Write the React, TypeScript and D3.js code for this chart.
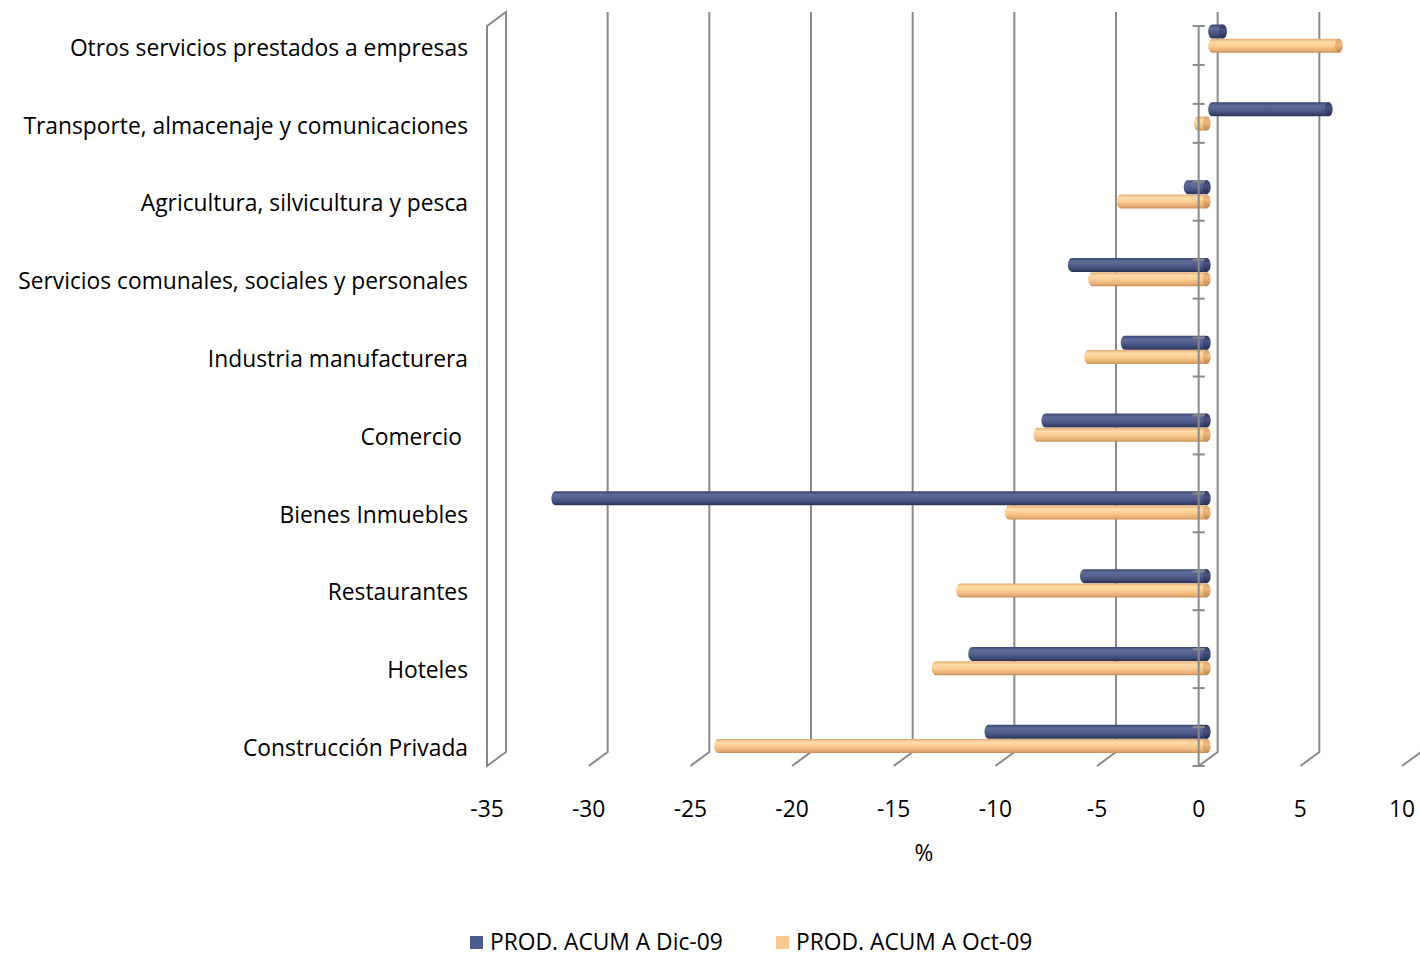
import React from "react";
import * as d3 from "d3";

const categories = [
  "Otros servicios prestados a empresas",
  "Transporte, almacenaje y comunicaciones",
  "Agricultura, silvicultura y pesca",
  "Servicios comunales, sociales y personales",
  "Industria manufacturera",
  "Comercio ",
  "Bienes Inmuebles",
  "Restaurantes",
  "Hoteles",
  "Construcción Privada",
];
const seriesNames = ["PROD. ACUM A Dic-09", "PROD. ACUM A Oct-09"];
const dicValues = [0.8, 6.0, -1.2, -6.9, -4.3, -8.2, -32.3, -6.3, -11.8, -11.0];
const octValues = [6.5, -0.7, -4.5, -5.9, -6.1, -8.6, -10.0, -12.4, -13.6, -24.3];
const xTicks = [-35, -30, -25, -20, -15, -10, -5, 0, 5, 10];

const FONT = "'Open Sans', sans-serif";
const FS = 22.8;
const GRID = "#8a8a8a";

export default function App() {
  const W = 1420, H = 956;
  const x = d3.scaleLinear().domain([-35, 10]).range([487, 1402]);
  const DX = 19, DY = -14;
  const floorY = 766;
  const backTop = 12, backBottom = floorY + DY;
  const y = d3.scaleBand<string>().domain(categories).range([8, 786]).paddingInner(0).paddingOuter(0);
  const inner = d3.scaleBand<string>().domain(seriesNames).range([-22.5, 6]).padding(0);
  const barH = 14;
  const axisTicks = d3.range(20).map((i) => 26 + i * ((766 - 26) / 19));
  const colors = ["dic", "oct"];

  const bars: React.ReactNode[] = [];
  categories.forEach((c, i) => {
    const yc = (y(c) as number) + y.bandwidth() / 2;
    [dicValues[i], octValues[i]].forEach((v, s) => {
      const yTop = yc + (inner(seriesNames[s]) as number) + (inner.bandwidth() - barH) / 2;
      const x0 = x(Math.min(0, v)) + DX / 2;
      const x1 = x(Math.max(0, v)) + DX / 2 + 2;
      const rx = 4;
      bars.push(
        <g key={`${i}-${s}`}>
          <rect x={x0} y={yTop} width={Math.max(x1 - x0, 2 * rx)} height={barH} rx={rx} ry={barH / 2} fill={`url(#g-${colors[s]})`} />
          <ellipse cx={x1 - rx + 0.5} cy={yTop + barH / 2} rx={rx} ry={barH / 2} fill={`url(#c-${colors[s]})`} />
        </g>
      );
    });
  });

  return (
    <svg width={W} height={H} style={{ position: "absolute", left: 0, top: 0, background: "#fff" }}>
      <defs>
        <linearGradient id="g-dic" x1="0" y1="0" x2="0" y2="1">
          <stop offset="0" stopColor="#3a4470" />
          <stop offset="0.25" stopColor="#5f6c9a" />
          <stop offset="0.55" stopColor="#515e8c" />
          <stop offset="0.85" stopColor="#3a4470" />
          <stop offset="1" stopColor="#2a3152" />
        </linearGradient>
        <linearGradient id="c-dic" x1="0" y1="0" x2="0" y2="1">
          <stop offset="0" stopColor="#313a62" />
          <stop offset="0.4" stopColor="#485482" />
          <stop offset="1" stopColor="#262d4c" />
        </linearGradient>
        <linearGradient id="g-oct" x1="0" y1="0" x2="0" y2="1">
          <stop offset="0" stopColor="#e3ac74" />
          <stop offset="0.25" stopColor="#fedcaa" />
          <stop offset="0.55" stopColor="#fbca90" />
          <stop offset="0.85" stopColor="#e5ae74" />
          <stop offset="1" stopColor="#c58d56" />
        </linearGradient>
        <linearGradient id="c-oct" x1="0" y1="0" x2="0" y2="1">
          <stop offset="0" stopColor="#d9a26a" />
          <stop offset="0.4" stopColor="#f0ba80" />
          <stop offset="1" stopColor="#bf8650" />
        </linearGradient>
      </defs>

      {/* side wall */}
      <path
        d={`M${x(-35)},${floorY} L${x(-35)},${backTop - DY} L${x(-35) + DX},${backTop} L${x(-35) + DX},${backBottom} Z`}
        fill="none" stroke={GRID} strokeWidth={2}
      />
      {/* gridlines */}
      {xTicks.slice(1).map((t) => (
        <path key={t}
          d={`M${x(t) + DX},${backTop} L${x(t) + DX},${backBottom} L${x(t)},${floorY}`}
          fill="none" stroke={GRID} strokeWidth={2} />
      ))}

      {bars}

      {/* vertical category axis */}
      <line x1={x(0)} x2={x(0)} y1={26} y2={766} stroke={GRID} strokeWidth={2} />
      {axisTicks.map((t, i) => (
        <line key={i} x1={x(0) - 6} x2={x(0) + 6} y1={t} y2={t} stroke={GRID} strokeWidth={2} />
      ))}

      {/* category labels */}
      {categories.map((c) => (
        <text key={c} x={468} y={(y(c) as number) + y.bandwidth() / 2 + 1} dy="0.35em" textAnchor="end"
          fontFamily={FONT} fontSize={FS} fill="#000" style={{ whiteSpace: "pre" }}>
          {c}
        </text>
      ))}

      {/* x tick labels */}
      {xTicks.map((t) => (
        <text key={t} x={x(t)} y={809} dy="0.35em" textAnchor="middle" fontFamily={FONT} fontSize={FS} fill="#000">
          {t}
        </text>
      ))}
      <text x={924} y={853} dy="0.35em" textAnchor="middle" fontFamily={FONT} fontSize={FS} fill="#000">%</text>

      {/* legend */}
      {seriesNames.map((n, s) => {
        const lx = s === 0 ? 470 : 776;
        return (
          <g key={n}>
            <rect x={lx} y={936} width={13} height={13} fill={s === 0 ? "#4f5b8a" : "#fbc98f"} />
            <text x={lx + 20} y={942} dy="0.35em" fontFamily={FONT} fontSize={FS} fill="#000">{n}</text>
          </g>
        );
      })}
    </svg>
  );
}
